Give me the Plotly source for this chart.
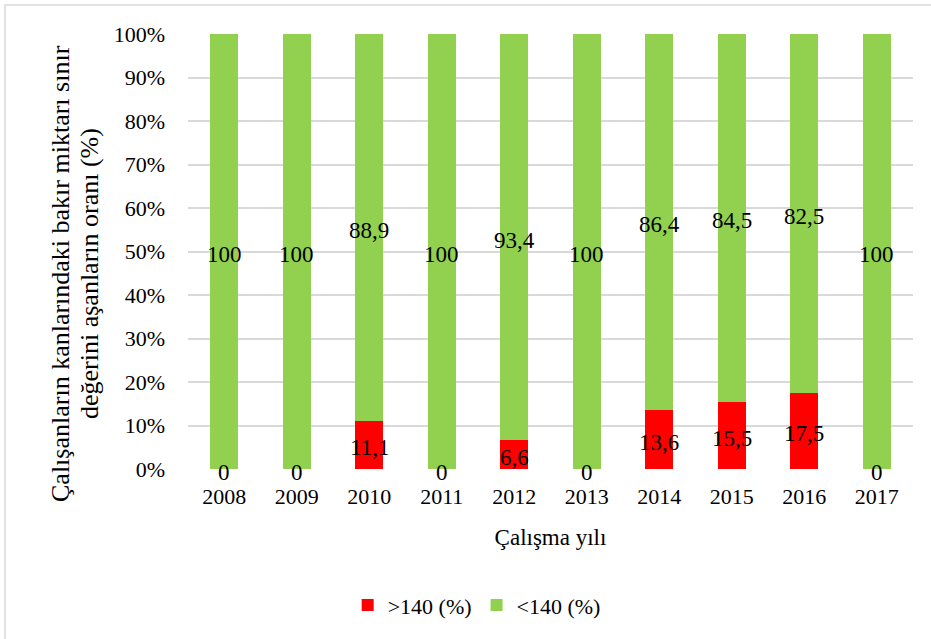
import plotly.graph_objects as go

# Study years and the share of workers above / below the copper limit (%)
years = ["2008", "2009", "2010", "2011", "2012", "2013", "2014", "2015", "2016", "2017"]
above_140 = [0, 0, 11.1, 0, 6.6, 0, 13.6, 15.5, 17.5, 0]
below_140 = [100, 100, 88.9, 100, 93.4, 100, 86.4, 84.5, 82.5, 100]
y_ticks = [0, 10, 20, 30, 40, 50, 60, 70, 80, 90, 100]
y_tick_labels = [f"{v}%" for v in y_ticks]

RED = "#FF0000"
GREEN = "#92D050"
FONT = "Liberation Serif"

# plot area in pixels (used to place the rotated axis title)
L, R, T, B = 188, 18, 34, 170
PW, PH = 931 - L - R, 639 - T - B


def fmt(v):
    return ("%g" % v).replace(".", ",")


fig = go.Figure()
fig.add_trace(go.Bar(x=years, y=above_140, name=">140 (%)", marker_color=RED,
                     marker_line_width=0, hoverinfo="skip"))
fig.add_trace(go.Bar(x=years, y=below_140, name="<140 (%)", marker_color=GREEN,
                     marker_line_width=0, hoverinfo="skip"))

# value labels centred in each stacked segment (x given as category index)
label_font = dict(family=FONT, size=23, color="black")
annotations = []
for i, (a, b) in enumerate(zip(above_140, below_140)):
    for val, mid in ((a, a / 2), (b, a + b / 2)):
        annotations.append(dict(x=i, y=mid, xref="x", yref="y", text=fmt(val),
                                showarrow=False, xanchor="center", yanchor="middle",
                                yshift=-3, font=label_font))

title_font = dict(family=FONT, size=26, color="black")
annotations += [
    dict(text="Çalışanların kanlarındaki bakır miktarı sınır",
         xref="paper", yref="paper", x=(60 - L) / PW, y=(T + PH - 274) / PH,
         xanchor="center", yanchor="middle", textangle=-90, showarrow=False,
         font=title_font),
    dict(text="değerini aşanların oranı (%)",
         xref="paper", yref="paper", x=(89 - L) / PW, y=(T + PH - 274) / PH,
         xanchor="center", yanchor="middle", textangle=-90, showarrow=False,
         font=title_font),
]

fig.update_layout(
    barmode="stack",
    bargap=0.61,
    width=931, height=639,
    margin=dict(l=L, r=R, t=T, b=B),
    paper_bgcolor="white", plot_bgcolor="white",
    font=dict(family=FONT, size=22, color="black"),
    legend=dict(orientation="h", xref="container", yref="container",
                x=0.512, y=0.053, xanchor="center", yanchor="middle",
                font=dict(family=FONT, size=22, color="black"), traceorder="normal",
                itemwidth=30),
    xaxis=dict(type="category", range=[-0.5, len(years) - 0.5],
               showgrid=False, zeroline=False, showline=False,
               ticks="", ticklabelstandoff=12,
               tickfont=dict(family=FONT, size=22, color="black"),
               title=dict(text="Çalışma yılı", standoff=20,
                          font=dict(family=FONT, size=23, color="black"))),
    yaxis=dict(range=[0, 100], tickmode="array", tickvals=y_ticks, ticktext=y_tick_labels,
               showgrid=True, gridcolor="#D9D9D9", gridwidth=1.5,
               zeroline=False, showline=False, ticks="",
               ticklabelstandoff=22, tickfont=dict(family=FONT, size=22, color="black")),
    shapes=[dict(type="rect", xref="paper", yref="paper",
                 x0=-183 / PW, x1=1.05, y0=-0.5, y1=1 + 29 / PH,
                 line=dict(color="#D9D9D9", width=1.5), fillcolor="rgba(0,0,0,0)",
                 layer="below")],
    annotations=annotations,
)

fig.write_html("out.html")
